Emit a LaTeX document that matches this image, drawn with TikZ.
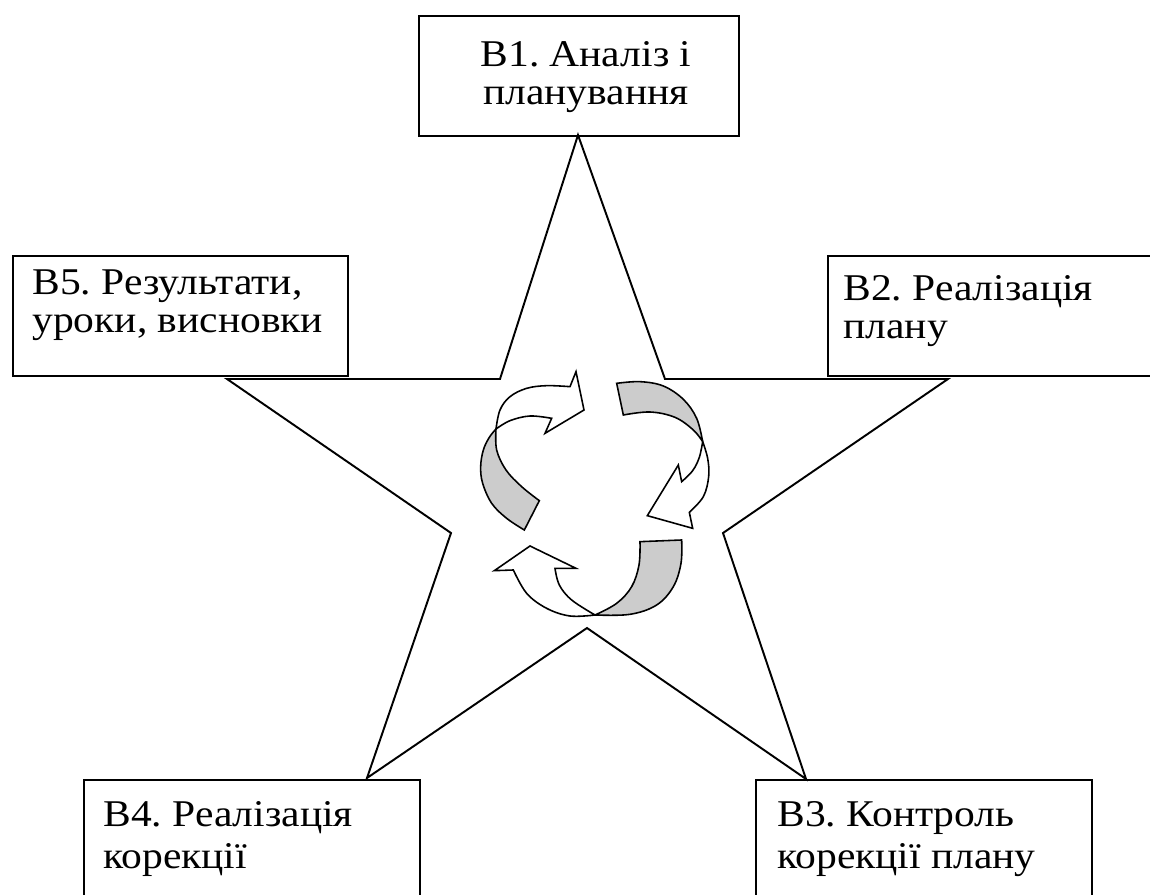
\documentclass[tikz,border=0pt]{standalone}
\usepackage{fontspec}
\setmainfont{Liberation Serif}[FakeStretch=1.1]
\definecolor{ribbongray}{RGB}{204,204,204}
\tikzset{
  box/.style={draw=black, line width=1.1pt, fill=none, inner sep=0pt, anchor=north west},
  lbl/.style={inner sep=0pt, font=\fontsize{21.5}{21.8}\selectfont\frenchspacing},
  lbltall/.style={inner sep=0pt, font=\fontsize{21.5}{23.8}\selectfont\frenchspacing},
  starline/.style={draw=black, line width=1.1pt, line join=miter},
  ribbonback/.style={draw=black, line width=0.9pt, fill=ribbongray, line join=miter},
  ribbonfront/.style={draw=black, line width=0.9pt, fill=white, line join=miter}
}
\begin{document}
\begin{tikzpicture}[x=0.02cm,y=-0.02cm]
\useasboundingbox (0,0) rectangle (1150,895);
\clip (0,0) rectangle (1150,895);
% star
\draw[starline] (578,135) -- (665,379) -- (948,379) -- (723,533) -- (806,779)
  -- (587,628) -- (367,778) -- (451,533) -- (227,379) -- (500,379) -- cycle;
% boxes
\node[box, minimum width=6.4cm, minimum height=2.4cm] (b1) at (418,15) {};
\node[box, minimum width=6.7cm, minimum height=2.4cm] (b5) at (12,255) {};
\node[box, minimum width=7.1cm, minimum height=2.4cm] (b2) at (827,255) {};
\node[box, minimum width=6.72cm, minimum height=2.9cm] (b4) at (83,779) {};
\node[box, minimum width=6.72cm, minimum height=2.9cm] (b3) at (755,779) {};
% texts
\node[lbl, anchor=north, align=center] (t1) at (586,41) {B1. Аналіз і\\планування};
\node[lbl, anchor=north west, align=left] (t5) at (32,269) {B5. Результати,\\уроки, висновки};
\node[lbl, anchor=north west, align=left] (t2) at (843,275) {B2. Реалізація\\плану};
\node[lbltall, anchor=north west, align=left] (t4) at (103,801) {B4. Реалізація\\корекції};
\node[lbltall, anchor=north west, align=left] (t3) at (777,801) {B3. Контроль\\корекції плану};
% circular ribbon arrows
\begin{scope}[shift={(460,350)}, scale=1/3]
  % arrow 1 (left, pointing right at top)
  \path[ribbonback] (238,452) -- (193,540)
    -- plot[smooth, tension=0.6] coordinates {(193,540) (140,505) (95,460) (68,400) (62,350) (70,300) (88,262) (108,237)}
    -- plot[smooth, tension=0.6] coordinates {(108,237) (110,300) (138,360) (185,410) (238,452)} -- cycle;
  \path[ribbonfront] (108,237)
    -- plot[smooth, tension=0.6] coordinates {(108,237) (150,212) (210,198) (275,205)}
    -- (255,250) -- (372,180) -- (348,65) -- (330,110)
    -- plot[smooth, tension=0.6] coordinates {(330,110) (260,107) (200,115) (150,140) (120,180) (108,237)} -- cycle;
  % arrow 2 (right, pointing down-left)
  \path[ribbonback] (490,195) -- (470,100)
    -- plot[smooth, tension=0.6] coordinates {(470,100) (540,95) (610,108) (670,148) (710,205) (728,275)}
    -- plot[smooth, tension=0.6] coordinates {(728,275) (700,240) (645,202) (570,186) (490,195)} -- cycle;
  \path[ribbonfront] (728,275)
    -- plot[smooth, tension=0.6] coordinates {(728,275) (743,325) (746,380) (730,440) (688,487)}
    -- (698,535) -- (562,497) -- (655,345) -- (665,395)
    -- plot[smooth, tension=0.6] coordinates {(665,395) (698,362) (718,322) (728,275)} -- cycle;
  % arrow 3 (bottom, pointing up-left)
  \path[ribbonback] (540,575) -- (665,570)
    -- plot[smooth, tension=0.6] coordinates {(665,570) (663,640) (640,710) (590,765) (510,793) (405,795)}
    -- plot[smooth, tension=0.6] coordinates {(405,795) (470,760) (515,710) (537,645) (540,575)} -- cycle;
  \path[ribbonfront] (405,795)
    -- plot[smooth, tension=0.6] coordinates {(405,795) (330,798) (260,775) (200,730) (160,660)}
    -- (103,662) -- (210,588) -- (348,655) -- (285,655)
    -- plot[smooth, tension=0.6] coordinates {(285,655) (298,705) (335,750) (405,795)} -- cycle;
\end{scope}
\end{tikzpicture}
\end{document}
